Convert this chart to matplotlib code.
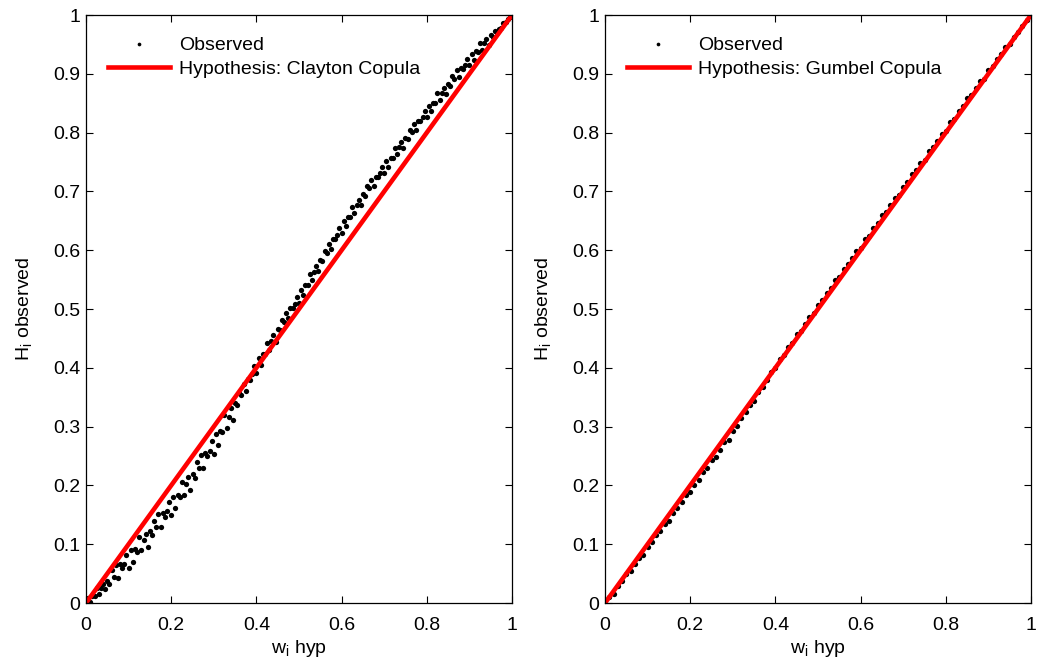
import matplotlib
matplotlib.use("Agg")
import matplotlib.pyplot as plt
import numpy as np

plt.rcParams['font.family'] = ['Liberation Sans', 'DejaVu Sans']

# Clayton panel: observed H_i against w_i
clayton_w = [
    0.005, 0.010, 0.015, 0.020, 0.025, 0.030, 0.035, 0.040, 0.045, 0.050,
    0.055, 0.060, 0.065, 0.070, 0.075, 0.080, 0.085, 0.090, 0.095, 0.100,
    0.105, 0.110, 0.115, 0.120, 0.125, 0.130, 0.135, 0.140, 0.145, 0.150,
    0.155, 0.160, 0.165, 0.170, 0.175, 0.180, 0.185, 0.190, 0.195, 0.200,
    0.205, 0.210, 0.215, 0.220, 0.225, 0.230, 0.235, 0.240, 0.245, 0.250,
    0.255, 0.260, 0.265, 0.270, 0.275, 0.280, 0.285, 0.290, 0.295, 0.300,
    0.305, 0.310, 0.315, 0.320, 0.325, 0.330, 0.335, 0.340, 0.345, 0.350,
    0.355, 0.360, 0.365, 0.370, 0.375, 0.380, 0.385, 0.390, 0.395, 0.400,
    0.405, 0.410, 0.415, 0.420, 0.425, 0.430, 0.435, 0.440, 0.445, 0.450,
    0.455, 0.460, 0.465, 0.470, 0.475, 0.480, 0.485, 0.490, 0.495, 0.500,
    0.505, 0.510, 0.515, 0.520, 0.525, 0.530, 0.535, 0.540, 0.545, 0.550,
    0.555, 0.560, 0.565, 0.570, 0.575, 0.580, 0.585, 0.590, 0.595, 0.600,
    0.605, 0.610, 0.615, 0.620, 0.625, 0.630, 0.635, 0.640, 0.645, 0.650,
    0.655, 0.660, 0.665, 0.670, 0.675, 0.680, 0.685, 0.690, 0.695, 0.700,
    0.705, 0.710, 0.715, 0.720, 0.725, 0.730, 0.735, 0.740, 0.745, 0.750,
    0.755, 0.760, 0.765, 0.770, 0.775, 0.780, 0.785, 0.790, 0.795, 0.800,
    0.805, 0.810, 0.815, 0.820, 0.825, 0.830, 0.835, 0.840, 0.845, 0.850,
    0.855, 0.860, 0.865, 0.870, 0.875, 0.880, 0.885, 0.890, 0.895, 0.900,
    0.905, 0.910, 0.915, 0.920, 0.925, 0.930, 0.935, 0.940, 0.945, 0.950,
    0.955, 0.960, 0.965, 0.970, 0.975, 0.980, 0.985, 0.990, 0.995, 1.000,
]
clayton_h = [
    0.008, 0.001, 0.012, 0.012, 0.025, 0.016, 0.025, 0.032, 0.024, 0.037,
    0.032, 0.056, 0.045, 0.065, 0.042, 0.066, 0.059, 0.067, 0.082, 0.059,
    0.090, 0.069, 0.092, 0.087, 0.113, 0.090, 0.107, 0.118, 0.096, 0.123,
    0.116, 0.140, 0.130, 0.151, 0.129, 0.153, 0.147, 0.156, 0.171, 0.149,
    0.181, 0.161, 0.184, 0.180, 0.206, 0.184, 0.202, 0.214, 0.192, 0.220,
    0.213, 0.239, 0.230, 0.251, 0.230, 0.255, 0.250, 0.259, 0.275, 0.254,
    0.287, 0.269, 0.293, 0.291, 0.319, 0.298, 0.317, 0.331, 0.311, 0.340,
    0.337, 0.357, 0.354, 0.372, 0.361, 0.381, 0.380, 0.389, 0.403, 0.392,
    0.416, 0.405, 0.423, 0.423, 0.443, 0.431, 0.446, 0.456, 0.444, 0.466,
    0.464, 0.481, 0.478, 0.493, 0.484, 0.501, 0.501, 0.508, 0.520, 0.511,
    0.532, 0.524, 0.540, 0.541, 0.559, 0.550, 0.563, 0.573, 0.564, 0.583,
    0.582, 0.599, 0.596, 0.611, 0.602, 0.619, 0.619, 0.626, 0.638, 0.629,
    0.649, 0.641, 0.656, 0.657, 0.674, 0.664, 0.677, 0.686, 0.677, 0.695,
    0.693, 0.709, 0.706, 0.720, 0.710, 0.725, 0.724, 0.731, 0.742, 0.732,
    0.752, 0.742, 0.757, 0.757, 0.774, 0.763, 0.775, 0.784, 0.773, 0.791,
    0.789, 0.804, 0.801, 0.815, 0.805, 0.820, 0.819, 0.826, 0.836, 0.826,
    0.846, 0.836, 0.851, 0.850, 0.867, 0.856, 0.868, 0.876, 0.866, 0.883,
    0.880, 0.896, 0.892, 0.906, 0.895, 0.910, 0.909, 0.915, 0.926, 0.915,
    0.934, 0.924, 0.938, 0.937, 0.953, 0.941, 0.952, 0.960, 0.949, 0.966,
    0.963, 0.972, 0.970, 0.977, 0.978, 0.986, 0.988, 0.993, 0.997, 1.000,
]

# Gumbel panel
gumbel_w = [
    0.01, 0.02, 0.03, 0.04, 0.05, 0.06, 0.07, 0.08, 0.09, 0.10,
    0.11, 0.12, 0.13, 0.14, 0.15, 0.16, 0.17, 0.18, 0.19, 0.20,
    0.21, 0.22, 0.23, 0.24, 0.25, 0.26, 0.27, 0.28, 0.29, 0.30,
    0.31, 0.32, 0.33, 0.34, 0.35, 0.36, 0.37, 0.38, 0.39, 0.40,
    0.41, 0.42, 0.43, 0.44, 0.45, 0.46, 0.47, 0.48, 0.49, 0.50,
    0.51, 0.52, 0.53, 0.54, 0.55, 0.56, 0.57, 0.58, 0.59, 0.60,
    0.61, 0.62, 0.63, 0.64, 0.65, 0.66, 0.67, 0.68, 0.69, 0.70,
    0.71, 0.72, 0.73, 0.74, 0.75, 0.76, 0.77, 0.78, 0.79, 0.80,
    0.81, 0.82, 0.83, 0.84, 0.85, 0.86, 0.87, 0.88, 0.89, 0.90,
    0.91, 0.92, 0.93, 0.94, 0.95, 0.96, 0.97, 0.98, 0.99, 1.00,
]
gumbel_h = [
    0.011, 0.016, 0.029, 0.037, 0.050, 0.055, 0.066, 0.077, 0.082, 0.095,
    0.103, 0.116, 0.123, 0.135, 0.140, 0.153, 0.161, 0.172, 0.183, 0.188,
    0.201, 0.209, 0.222, 0.230, 0.244, 0.249, 0.261, 0.273, 0.278, 0.292,
    0.301, 0.315, 0.324, 0.337, 0.344, 0.359, 0.368, 0.380, 0.393, 0.400,
    0.415, 0.421, 0.435, 0.443, 0.457, 0.463, 0.475, 0.487, 0.493, 0.507,
    0.515, 0.528, 0.536, 0.549, 0.554, 0.568, 0.576, 0.587, 0.599, 0.604,
    0.619, 0.625, 0.638, 0.646, 0.660, 0.665, 0.677, 0.689, 0.694, 0.708,
    0.716, 0.729, 0.736, 0.749, 0.754, 0.768, 0.776, 0.786, 0.798, 0.803,
    0.818, 0.823, 0.836, 0.845, 0.858, 0.864, 0.876, 0.887, 0.892, 0.906,
    0.913, 0.926, 0.933, 0.945, 0.950, 0.963, 0.971, 0.981, 0.992, 1.000,
]

hyp_line = [0.0, 1.0]
ticks = [0, 0.1, 0.2, 0.3, 0.4, 0.5, 0.6, 0.7, 0.8, 0.9, 1]
xticks = [0, 0.2, 0.4, 0.6, 0.8, 1]

panels = [
    (clayton_w, clayton_h, "Hypothesis: Clayton Copula"),
    (gumbel_w, gumbel_h, "Hypothesis: Gumbel Copula"),
]

fig = plt.figure(figsize=(10.39, 6.66), dpi=100)
boxes = [
    [86 / 1039, 63 / 666, 426 / 1039, 588 / 666],
    [605 / 1039, 63 / 666, 426 / 1039, 588 / 666],
]

for box, (w, h, label) in zip(boxes, panels):
    ax = fig.add_axes(box)
    ax.plot(w, h, 'o', color='black', markersize=3.8, markeredgewidth=0,
            label='Observed')
    ax.plot(hyp_line, hyp_line, color='red', linewidth=3.3, label=label)
    ax.set_xlim(0, 1)
    ax.set_ylim(0, 1)
    ax.set_xticks(xticks)
    ax.set_yticks(ticks)
    ax.set_xticklabels([f"{t:g}" for t in xticks])
    ax.set_yticklabels([f"{t:g}" for t in ticks])
    ax.tick_params(direction='in', top=True, right=True, length=5,
                   width=0.8, labelsize=14, pad=4)
    ax.tick_params(axis='x', pad=10)
    for s in ax.spines.values():
        s.set_linewidth(0.9)
    ax.set_xlabel(r"w$_\mathregular{i}$ hyp", fontsize=14, labelpad=3)
    ax.set_ylabel(r"H$_\mathregular{i}$ observed", fontsize=14, labelpad=13)
    leg = ax.legend(loc='upper left', frameon=False, fontsize=14,
                    handlelength=3.2, handletextpad=0.45, labelspacing=0.3,
                    borderaxespad=0.3, markerscale=0.7,
                    bbox_to_anchor=(0.02, 0.986))

fig.savefig("out.png", dpi=100)
